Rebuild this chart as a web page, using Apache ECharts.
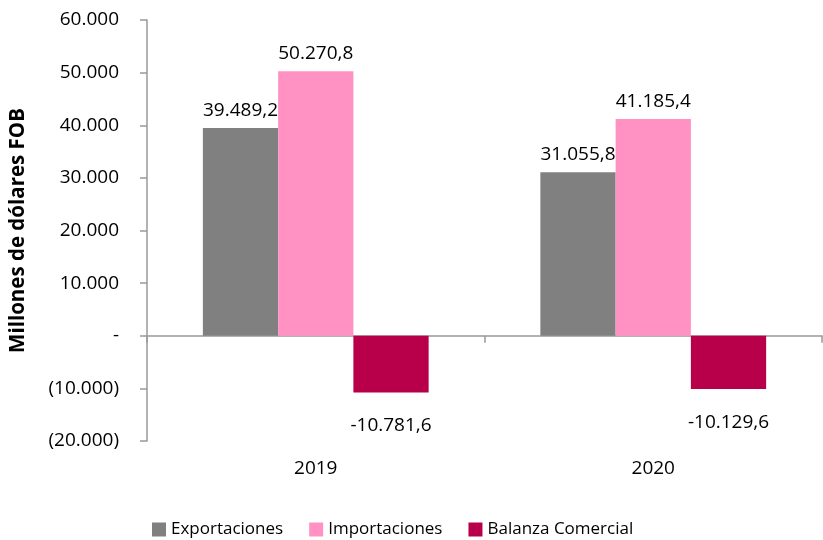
<!DOCTYPE html>
<html>
<head>
<meta charset="utf-8">
<script src="https://cdn.jsdelivr.net/npm/echarts@6/dist/echarts.min.js"></script>
<style>
  html, body { margin: 0; padding: 0; background: #fff; }
  #main { width: 823px; height: 540px; }
</style>
</head>
<body>
<div id="main"></div>
<script>
// datos
var years = ['2019', '2020'];
var exportaciones = [39489.2, 31055.8];
var importaciones = [50270.8, 41185.4];
var balanza = [-10781.6, -10129.6];
var seriesNames = ['Exportaciones', 'Importaciones', 'Balanza Comercial'];
var colores = ['#808080', '#ff92c2', '#b8004a'];

var FONT = '"Open Sans", "Noto Sans", sans-serif';

function miles(v, dec) {
  var s = Math.abs(v).toFixed(dec);
  var parts = s.split('.');
  var ent = parts[0].replace(/\B(?=(\d{3})+(?!\d))/g, '.');
  return (v < 0 ? '-' : '') + ent + (parts[1] ? ',' + parts[1] : '');
}

var myChart = echarts.init(document.getElementById('main'));

function etiqueta(pos, dist) {
  return {
    show: true,
    position: pos,
    distance: dist,
    color: '#000',
    fontFamily: FONT,
    fontSize: 19,
    formatter: function (p) { return miles(p.value, 1); }
  };
}

var option = {
  animation: false,
  textStyle: { fontFamily: FONT },
  grid: { left: 145, right: 1, top: 20, bottom: 99 },
  legend: {
    top: 516,
    left: 147,
    itemWidth: 14,
    itemHeight: 14,
    itemGap: 26,
    icon: 'rect',
    textStyle: { fontFamily: FONT, fontSize: 17, color: '#000' },
    data: seriesNames
  },
  xAxis: [
    {
      type: 'category',
      data: years,
      position: 'bottom',
      axisLine: { show: false, onZero: false },
      axisTick: { show: false },
      axisLabel: { margin: 18, fontSize: 19, color: '#000', fontFamily: FONT }
    },
    {
      type: 'category',
      data: years,
      position: 'bottom',
      axisLine: { show: true, onZero: true, lineStyle: { color: '#999', width: 1.5 } },
      axisTick: { show: true, length: 7, lineStyle: { color: '#999', width: 1.5 } },
      axisLabel: { show: false }
    }
  ],
  yAxis: {
    type: 'value',
    min: -20000,
    max: 60000,
    interval: 10000,
    name: 'Millones de dólares FOB',
    nameLocation: 'middle',
    nameGap: 118,
    nameTextStyle: { fontFamily: FONT, fontSize: 20.5, fontWeight: 'bold', color: '#000' },
    axisLine: { show: true, lineStyle: { color: '#999', width: 1.5 } },
    axisTick: { show: true, length: 7, lineStyle: { color: '#999', width: 1.5 } },
    splitLine: { show: false },
    axisLabel: {
      margin: 28,
      fontSize: 19,
      color: '#000',
      fontFamily: FONT,
      formatter: function (v) {
        if (v === 0) return '-';
        if (v < 0) return '(' + miles(-v, 0) + ')';
        return miles(v, 0);
      }
    }
  },
  series: [
    {
      name: seriesNames[0],
      type: 'bar',
      xAxisIndex: 0,
      data: exportaciones,
      barWidth: '22.3%',
      barGap: '0%',
      itemStyle: { color: colores[0] },
      label: etiqueta('top', 8)
    },
    {
      name: seriesNames[1],
      type: 'bar',
      xAxisIndex: 0,
      data: importaciones,
      barWidth: '22.3%',
      barGap: '0%',
      itemStyle: { color: colores[1] },
      label: etiqueta('top', 8)
    },
    {
      name: seriesNames[2],
      type: 'bar',
      xAxisIndex: 0,
      data: balanza,
      barWidth: '22.3%',
      barGap: '0%',
      itemStyle: { color: colores[2] },
      label: etiqueta('bottom', 24)
    }
  ]
};
myChart.setOption(option);
</script>
</body>
</html>
